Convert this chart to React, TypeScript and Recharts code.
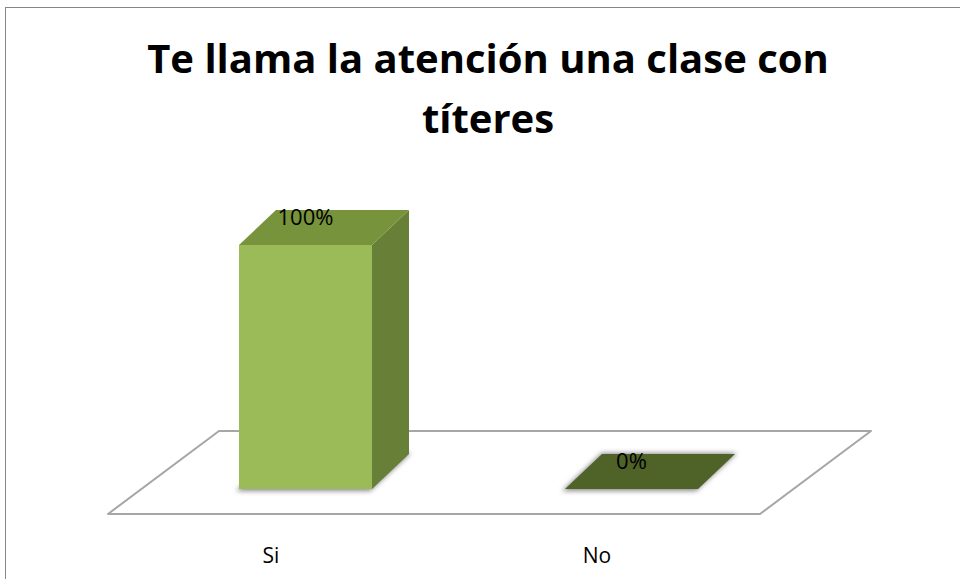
import { BarChart, Bar, XAxis, YAxis, LabelList } from "recharts";

const categories = ["Si", "No"];
const percentages = [100, 0];
const valueLabels = ["100%", "0%"];
const titleLines = ["Te llama la atención una clase con", "títeres"];

const W = 960;
const H = 579;
const M = { top: 270, right: 200, bottom: 25, left: 108 };
const AXIS_H = 40;
const FLOOR_FRONT = H - M.bottom - AXIS_H;
// floor depth and bar offsets (oblique projection)
const FLOOR_DX = 111;
const FLOOR_DY = -83;
const SHIFT_X = 34;
const SHIFT_Y = -25;
const DEPTH_X = 37;
const DEPTH_Y = -35;

const data = categories.map((name, i) => ({ name, value: percentages[i], label: valueLabels[i] }));

const pts = (p: number[][]) => p.map((q) => q.join(",")).join(" ");

function Box(props: any) {
  const { x, y, width, height } = props;
  const l = x + SHIFT_X;
  const r = l + width;
  const t = y + SHIFT_Y;
  const b = t + height;
  const flat = height < 1;
  return (
    <g>
      <polygon
        points={pts([[l - 3, b + 2], [r - 2, b + 2], [r + DEPTH_X + 2, b + DEPTH_Y - 1], [l + DEPTH_X, b + DEPTH_Y - 1]])}
        fill="#8a8a8a"
        filter="url(#soft)"
      />
      {!flat && (
        <>
          <rect x={l} y={t} width={width} height={height} fill="#9BBB59" />
          <polygon points={pts([[r, t], [r + DEPTH_X, t + DEPTH_Y], [r + DEPTH_X, b + DEPTH_Y], [r, b]])} fill="#677F37" />
        </>
      )}
      <polygon
        points={pts([[l, t], [r, t], [r + DEPTH_X, t + DEPTH_Y], [l + DEPTH_X, t + DEPTH_Y]])}
        fill={flat ? "#4F6228" : "#77933C"}
      />
    </g>
  );
}

function ValueLabel(props: any) {
  const { x, y, width, value } = props;
  return (
    <text
      x={x + width / 2 + SHIFT_X}
      y={y + SHIFT_Y + DEPTH_Y + 15}
      textAnchor="middle"
      fontFamily="Open Sans"
      fontSize={22}
      fill="#000"
    >
      {value}
    </text>
  );
}

function CategoryTick(props: any) {
  const { x, y, payload } = props;
  return (
    <text x={x} y={y + 41} textAnchor="middle" fontFamily="Open Sans" fontSize={21} fill="#000">
      {payload.value}
    </text>
  );
}

export default function App() {
  const fl = M.left;
  const fr = W - M.right;
  return (
    <div style={{ position: "absolute", left: 0, top: 0, width: W, height: H, background: "#fff", overflow: "hidden" }}>
      <svg width={W} height={H} style={{ position: "absolute", left: 0, top: 0 }}>
        <rect x={5.5} y={7.5} width={W + 20} height={H + 20} fill="#fff" stroke="#868686" strokeWidth={1} />
        {titleLines.map((line, i) => (
          <text
            key={line}
            x={488}
            y={73 + i * 60}
            textAnchor="middle"
            fontFamily="Open Sans"
            fontWeight={700}
            fontSize={40}
            fill="#000"
          >
            {line}
          </text>
        ))}
        <polygon
          points={pts([[fl, FLOOR_FRONT], [fr, FLOOR_FRONT], [fr + FLOOR_DX, FLOOR_FRONT + FLOOR_DY], [fl + FLOOR_DX, FLOOR_FRONT + FLOOR_DY]])}
          fill="#fff"
          stroke="#A6A6A6"
          strokeWidth={2}
          strokeLinejoin="round"
        />
      </svg>
      <div style={{ position: "absolute", left: 0, top: 0 }}>
        <BarChart width={W} height={H} data={data} margin={M}>
          <defs>
            <filter id="soft" x="-20%" y="-50%" width="140%" height="200%">
              <feGaussianBlur stdDeviation={2.5} />
            </filter>
          </defs>
          <XAxis dataKey="name" axisLine={false} tickLine={false} height={AXIS_H} interval={0} tick={<CategoryTick />} />
          <YAxis hide domain={[0, 100]} />
          <Bar dataKey="value" barSize={133} shape={<Box />} minPointSize={0} isAnimationActive={false}>
            <LabelList dataKey="label" content={<ValueLabel />} />
          </Bar>
        </BarChart>
      </div>
    </div>
  );
}
